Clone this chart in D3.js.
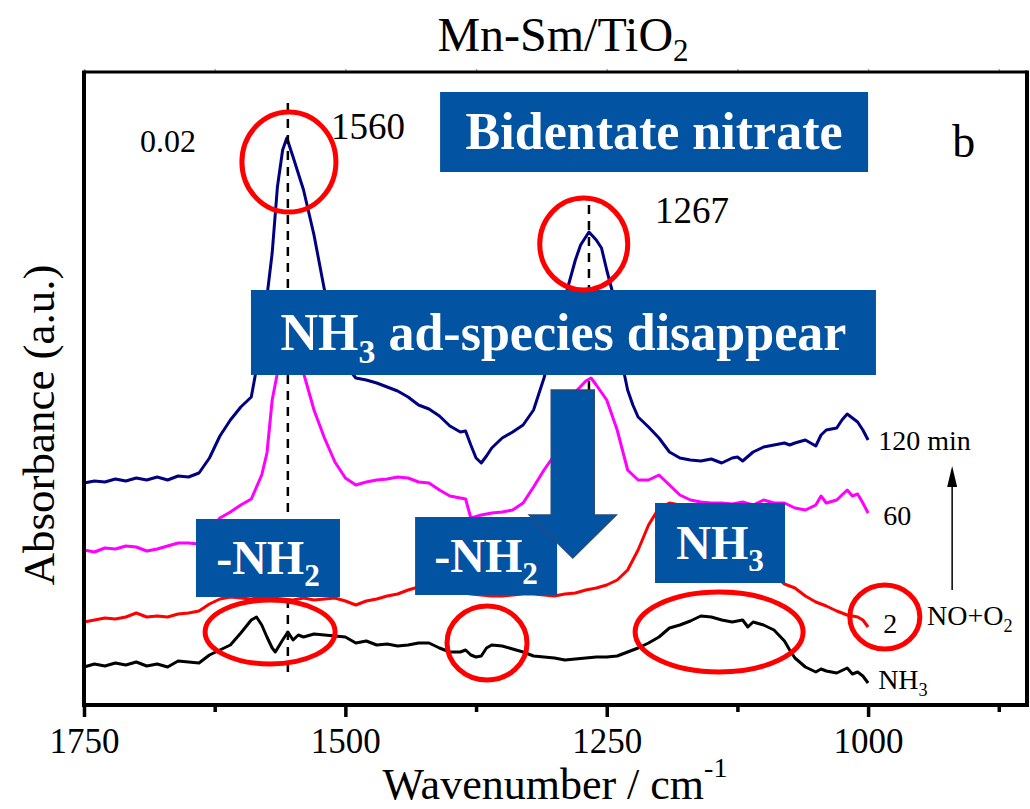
<!DOCTYPE html>
<html>
<head>
<meta charset="utf-8">
<script src="https://cdn.jsdelivr.net/npm/d3@7"></script>
<style>
  body { margin: 0; background: #fff; }
  text { font-family: "Liberation Serif", "Times New Roman", serif; }
</style>
</head>
<body>
<div id="chart"></div>
<script>
// ticks of the wavenumber axis
var majorTicks = [1750, 1500, 1250, 1000];
var minorTicks = [1625, 1375, 1125, 875];

// spectra, [wavenumber, absorbance]
var spec120 = [[1750,0.0444],[1740,0.0448],[1730,0.0446],[1720,0.0452],[1710,0.0448],[1700,0.0454],[1690,0.0450],[1680,0.0456],[1670,0.0450],[1660,0.0458],[1650,0.0456],[1640,0.0464],[1630,0.0494],[1620,0.0538],[1610,0.0570],[1600,0.0596],[1590,0.0616],[1580,0.0730],[1570,0.0904],[1565,0.1036],[1560,0.1110],[1556,0.1134],[1550,0.1096],[1540,0.1030],[1530,0.0940],[1520,0.0830],[1510,0.0750],[1500,0.0680],[1490,0.0654],[1480,0.0650],[1470,0.0644],[1460,0.0636],[1450,0.0628],[1440,0.0616],[1430,0.0600],[1420,0.0592],[1410,0.0578],[1400,0.0558],[1390,0.0546],[1385,0.0548],[1380,0.0520],[1375,0.0494],[1370,0.0484],[1365,0.0498],[1360,0.0514],[1350,0.0534],[1340,0.0546],[1330,0.0560],[1320,0.0590],[1310,0.0654],[1300,0.0730],[1290,0.0814],[1280,0.0890],[1275,0.0920],[1267,0.0946],[1260,0.0930],[1255,0.0914],[1250,0.0870],[1245,0.0830],[1240,0.0750],[1235,0.0680],[1230,0.0630],[1225,0.0600],[1220,0.0576],[1210,0.0556],[1200,0.0534],[1190,0.0506],[1180,0.0494],[1170,0.0490],[1160,0.0488],[1150,0.0492],[1140,0.0484],[1130,0.0494],[1125,0.0496],[1120,0.0488],[1110,0.0506],[1100,0.0516],[1090,0.0520],[1080,0.0524],[1075,0.0520],[1070,0.0524],[1060,0.0530],[1050,0.0518],[1045,0.0540],[1040,0.0550],[1030,0.0554],[1025,0.0570],[1020,0.0582],[1015,0.0574],[1010,0.0566],[1005,0.0550],[1000,0.0530]];

var spec60 = [[1750,0.0310],[1740,0.0306],[1730,0.0314],[1720,0.0312],[1710,0.0318],[1700,0.0316],[1690,0.0308],[1680,0.0312],[1670,0.0318],[1660,0.0324],[1650,0.0324],[1640,0.0322],[1630,0.0346],[1620,0.0374],[1610,0.0386],[1600,0.0400],[1590,0.0412],[1580,0.0460],[1575,0.0504],[1570,0.0610],[1565,0.0664],[1560,0.0770],[1555,0.0810],[1550,0.0770],[1545,0.0710],[1540,0.0664],[1530,0.0590],[1520,0.0534],[1510,0.0486],[1500,0.0454],[1490,0.0440],[1480,0.0446],[1470,0.0450],[1460,0.0452],[1450,0.0456],[1440,0.0454],[1430,0.0446],[1420,0.0444],[1410,0.0430],[1400,0.0418],[1390,0.0414],[1385,0.0412],[1380,0.0374],[1370,0.0380],[1360,0.0384],[1350,0.0386],[1340,0.0390],[1330,0.0404],[1320,0.0436],[1310,0.0470],[1300,0.0500],[1290,0.0570],[1280,0.0626],[1270,0.0648],[1265,0.0654],[1260,0.0640],[1250,0.0610],[1240,0.0550],[1230,0.0470],[1220,0.0450],[1210,0.0450],[1200,0.0460],[1190,0.0440],[1180,0.0420],[1170,0.0410],[1160,0.0406],[1150,0.0404],[1140,0.0404],[1130,0.0402],[1120,0.0406],[1110,0.0400],[1100,0.0410],[1090,0.0404],[1080,0.0404],[1070,0.0394],[1060,0.0390],[1050,0.0400],[1045,0.0418],[1040,0.0404],[1030,0.0410],[1025,0.0420],[1020,0.0430],[1015,0.0418],[1010,0.0422],[1005,0.0404],[1000,0.0384]];

var spec2 = [[1750,0.0166],[1740,0.0170],[1730,0.0174],[1720,0.0172],[1710,0.0176],[1700,0.0184],[1690,0.0176],[1680,0.0178],[1670,0.0176],[1660,0.0182],[1650,0.0184],[1640,0.0188],[1630,0.0202],[1620,0.0212],[1610,0.0216],[1600,0.0214],[1590,0.0212],[1580,0.0216],[1570,0.0214],[1560,0.0212],[1550,0.0210],[1540,0.0214],[1530,0.0210],[1520,0.0212],[1510,0.0214],[1500,0.0208],[1490,0.0200],[1480,0.0208],[1470,0.0212],[1460,0.0218],[1450,0.0222],[1440,0.0230],[1430,0.0236],[1420,0.0242],[1410,0.0238],[1400,0.0230],[1390,0.0226],[1380,0.0222],[1370,0.0220],[1360,0.0218],[1350,0.0218],[1340,0.0220],[1330,0.0222],[1320,0.0222],[1310,0.0220],[1300,0.0218],[1290,0.0222],[1280,0.0224],[1270,0.0230],[1260,0.0234],[1250,0.0240],[1240,0.0250],[1230,0.0270],[1220,0.0310],[1210,0.0360],[1200,0.0394],[1190,0.0404],[1180,0.0400],[1170,0.0394],[1160,0.0390],[1150,0.0386],[1140,0.0380],[1130,0.0374],[1120,0.0360],[1110,0.0330],[1100,0.0290],[1090,0.0260],[1080,0.0242],[1070,0.0234],[1060,0.0218],[1050,0.0206],[1040,0.0198],[1030,0.0188],[1020,0.0180],[1010,0.0176],[1005,0.0170],[1000,0.0156]];

var specNH3 = [[1750,0.0076],[1740,0.0082],[1730,0.0078],[1720,0.0084],[1710,0.0080],[1700,0.0086],[1690,0.0078],[1680,0.0082],[1670,0.0076],[1660,0.0088],[1650,0.0086],[1640,0.0084],[1630,0.0100],[1620,0.0110],[1610,0.0120],[1600,0.0144],[1590,0.0170],[1585,0.0176],[1580,0.0160],[1575,0.0136],[1570,0.0114],[1567,0.0106],[1560,0.0130],[1555,0.0146],[1550,0.0130],[1545,0.0140],[1540,0.0136],[1530,0.0142],[1520,0.0140],[1510,0.0138],[1500,0.0136],[1490,0.0124],[1480,0.0128],[1470,0.0120],[1460,0.0122],[1450,0.0118],[1440,0.0120],[1430,0.0124],[1420,0.0124],[1410,0.0114],[1400,0.0106],[1390,0.0106],[1385,0.0110],[1380,0.0100],[1375,0.0096],[1370,0.0098],[1365,0.0114],[1360,0.0120],[1350,0.0118],[1340,0.0112],[1330,0.0106],[1320,0.0098],[1310,0.0096],[1300,0.0094],[1290,0.0090],[1280,0.0092],[1270,0.0094],[1260,0.0096],[1250,0.0096],[1240,0.0098],[1230,0.0106],[1220,0.0114],[1210,0.0124],[1200,0.0136],[1190,0.0154],[1180,0.0160],[1170,0.0168],[1160,0.0178],[1150,0.0176],[1140,0.0170],[1130,0.0166],[1120,0.0170],[1115,0.0156],[1110,0.0166],[1100,0.0160],[1090,0.0150],[1080,0.0128],[1075,0.0110],[1070,0.0094],[1060,0.0076],[1050,0.0066],[1045,0.0072],[1040,0.0068],[1030,0.0064],[1020,0.0074],[1015,0.0062],[1010,0.0066],[1005,0.0058],[1000,0.0044]];

var seriesNames = ["NH3", "2", "60", "120 min"];
var seriesColors = ["#000000", "#ff0000", "#ff00ff", "#000080"];
var peaks = [1555, 1267];

var margin = {top: 72, right: 3, bottom: 104, left: 84},
    width = 1030 - margin.left - margin.right,
    height = 809 - margin.top - margin.bottom;

var x = d3.scaleLinear().domain([1750, 848]).range([0, width]);
var y = d3.scaleLinear().domain([0, 0.1266]).range([height, 0]);

var svg = d3.select("#chart").append("svg")
    .attr("width", 1030)
    .attr("height", 809);

var g = svg.append("g")
    .attr("transform", "translate(" + margin.left + "," + margin.top + ")");

var boxBlue = "#0353a3";

// spectra
var line = d3.line()
    .x(function(d) { return x(d[0]); })
    .y(function(d) { return y(d[1]); });

[specNH3, spec2, spec60, spec120].forEach(function(s, i) {
  g.append("path")
      .attr("d", line(s))
      .attr("fill", "none")
      .attr("stroke", seriesColors[i])
      .attr("stroke-width", 3)
      .attr("stroke-linejoin", "round");
});

// dashed peak lines
g.append("line")
    .attr("x1", x(peaks[0])).attr("x2", x(peaks[0]))
    .attr("y1", y(0.1204)).attr("y2", y(0.0054))
    .attr("stroke", "#000").attr("stroke-width", 2.5).attr("stroke-dasharray", "9,7");
g.append("line")
    .attr("x1", x(peaks[1])).attr("x2", x(peaks[1]))
    .attr("y1", y(0.1000)).attr("y2", y(0.045))
    .attr("stroke", "#000").attr("stroke-width", 2.5).attr("stroke-dasharray", "9,7");

// blue label boxes
function box(wn, a, w, h, fs, parts) {
  var bx = x(wn), by = y(a);
  g.append("rect")
      .attr("x", bx).attr("y", by)
      .attr("width", w).attr("height", h)
      .attr("fill", boxBlue);
  var t = g.append("text")
      .attr("x", bx + w / 2)
      .attr("y", by + h / 2 + fs * 0.33)
      .attr("text-anchor", "middle")
      .attr("fill", "#fff")
      .attr("font-weight", "bold")
      .attr("font-size", fs + "px");
  var shift = 0;
  parts.forEach(function(p) {
    var ts = t.append("tspan").text(p[0]);
    if (p[1]) {
      ts.attr("font-size", (fs * 0.65) + "px").attr("dy", fs * 0.25);
      shift = fs * 0.25;
    } else if (shift) {
      ts.attr("dy", -shift);
      shift = 0;
    }
  });
}
box(1409.4, 0.1226, 428, 80, 52, [["Bidentate nitrate"]]);
box(1590.3, 0.0830, 625, 85, 52, [["NH"], ["3", true], [" ad-species disappear"]]);
box(1642.9, 0.0372, 144, 78, 48, [["-NH"], ["2", true]]);
box(1433.3, 0.0376, 142, 78, 48, [["-NH"], ["2", true]]);
box(1203.8, 0.0404, 130, 80, 48, [["NH"], ["3", true]]);

// big down arrow
var ax = x(1282.5), aTop = y(0.063), aNeck = y(0.038), aTip = y(0.0294);
g.append("path")
    .attr("d", "M" + (ax - 21.5) + "," + aTop + "H" + (ax + 21.5) + "V" + aNeck +
        "H" + (ax + 43.5) + "L" + ax + "," + aTip + "L" + (ax - 43.5) + "," + aNeck +
        "H" + (ax - 21.5) + "Z")
    .attr("fill", boxBlue)
    .attr("stroke", "#2a4a78")
    .attr("stroke-width", 1.5);

// red ellipses
[[1554, 0.1086, 47, 50], [1272, 0.0922, 44, 46], [1572, 0.0146, 65, 32],
 [1364.5, 0.0124, 40, 37], [1142.5, 0.0146, 84, 40], [984, 0.0176, 35, 32]]
  .forEach(function(e) {
    g.append("ellipse")
        .attr("cx", x(e[0])).attr("cy", y(e[1]))
        .attr("rx", e[2]).attr("ry", e[3])
        .attr("fill", "none")
        .attr("stroke", "#ff0000")
        .attr("stroke-width", 5);
  });

// plain labels
function label(wn, a, txt, fs, sub) {
  var t = g.append("text")
      .attr("x", x(wn)).attr("y", y(a))
      .attr("font-size", fs + "px")
      .attr("fill", "#000")
      .text(txt);
  if (sub) t.append("tspan").attr("font-size", (fs * 0.65) + "px").attr("dy", fs * 0.25).text(sub);
}
label(1513.7, 0.1132, "1560", 37);
label(1203.8, 0.0964, "1267", 37);
label(1696.4, 0.1106, "0.02", 32);
label(919.6, 0.1096, "b", 46);
label(990.4, 0.0510, seriesNames[3], 28);
label(985.6, 0.0360, seriesNames[2], 28);
label(985.6, 0.0144, seriesNames[1], 28);
label(943.6, 0.0160, "NO+O", 28, "2");
label(990.4, 0.0032, "NH", 28, "3");

// small time arrow
var sx = x(919.6);
g.append("line")
    .attr("x1", sx).attr("x2", sx)
    .attr("y1", y(0.023)).attr("y2", y(0.044))
    .attr("stroke", "#000").attr("stroke-width", 1.5);
g.append("path")
    .attr("d", "M" + sx + "," + y(0.0478) + "L" + (sx - 5) + "," + y(0.0436) + "L" + (sx + 5) + "," + y(0.0436) + "Z")
    .attr("fill", "#000");

// axes
var xMajor = g.append("g")
    .attr("transform", "translate(0," + height + ")")
    .call(d3.axisBottom(x).tickValues(majorTicks).tickSize(12).tickFormat(d3.format("d")));
xMajor.select(".domain").remove();
xMajor.selectAll("line").attr("stroke-width", 3.5);
xMajor.selectAll("text")
    .attr("y", 48).attr("dy", null)
    .attr("font-size", "35px")
    .attr("font-family", "'Liberation Serif', 'Times New Roman', serif");

var xMinor = g.append("g")
    .attr("transform", "translate(0," + height + ")")
    .call(d3.axisBottom(x).tickValues(minorTicks).tickSize(7).tickFormat(""));
xMinor.select(".domain").remove();
xMinor.selectAll("line").attr("stroke-width", 3.5);

var xTop = g.append("g")
    .call(d3.axisTop(x).tickValues(majorTicks.concat(minorTicks)).tickSize(3).tickFormat(""));
xTop.select(".domain").remove();
xTop.selectAll("line").attr("stroke", "#aaa").attr("stroke-width", 1.5);

// frame
g.append("line").attr("x1", 0).attr("x2", width).attr("y1", 0).attr("y2", 0)
    .attr("stroke", "#000").attr("stroke-width", 3);
g.append("line").attr("x1", -2).attr("x2", width + 2).attr("y1", height).attr("y2", height)
    .attr("stroke", "#000").attr("stroke-width", 4);
g.append("line").attr("x1", 0).attr("x2", 0).attr("y1", -1.5).attr("y2", height + 2)
    .attr("stroke", "#000").attr("stroke-width", 4);
g.append("line").attr("x1", width).attr("x2", width).attr("y1", -1.5).attr("y2", height + 2)
    .attr("stroke", "#000").attr("stroke-width", 4);

// titles
var title = svg.append("text")
    .attr("x", 563).attr("y", 51)
    .attr("text-anchor", "middle")
    .attr("font-size", "48px")
    .text("Mn-Sm/TiO");
title.append("tspan").attr("font-size", "31px").attr("dy", 10).text("2");

var xl = svg.append("text")
    .attr("x", 555).attr("y", 799)
    .attr("text-anchor", "middle")
    .attr("font-size", "44px")
    .text("Wavenumber / cm");
xl.append("tspan").attr("font-size", "28px").attr("dy", -22).text("-1");

svg.append("text")
    .attr("transform", "translate(54,425) rotate(-90)")
    .attr("text-anchor", "middle")
    .attr("font-size", "45px")
    .text("Absorbance (a.u.)");
</script>
</body>
</html>
